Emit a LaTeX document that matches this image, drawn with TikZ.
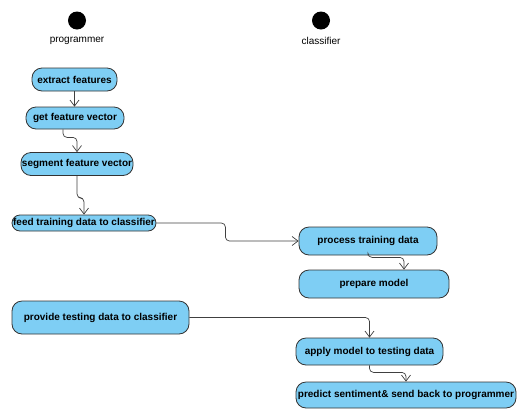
\documentclass[tikz,border=0pt]{standalone}
\usepackage{fontspec}
\setmainfont{Liberation Sans}
\usetikzlibrary{arrows.meta,positioning}
\definecolor{actblue}{RGB}{126,206,244}

\begin{document}
\begin{tikzpicture}[x=1pt,y=1pt,on grid,
			act/.style={draw=black!80,line width=0.8pt,fill=actblue,rounded corners=10pt,inner sep=0pt,font=\fontsize{10}{12}\selectfont\bfseries},
			lane/.style={font=\fontsize{10}{12}\selectfont},
			startdot/.style={circle,fill=black,inner sep=0pt,minimum size=18pt},
			flow/.style={draw=black!75,line width=0.7pt,rounded corners=4pt,-{Straight Barb[length=6pt,width=9pt]}}]
			\useasboundingbox (0,0) rectangle (517,-408);
			\node[startdot] (progdot) at (77,-20.5) {};
			\node[lane] (prog) [below=20.5pt of progdot] {programmer};
			\node[startdot] (clsdot) at (321,-20.5) {};
			\node[lane] (cls) [below=20pt of clsdot] {classifier};
			\node[act, minimum width=85pt, minimum height=23pt] (extract) at (74.5,-79.5) {extract features};
			\node[act, minimum width=98pt, minimum height=22pt] (getvec) [below right=38.5pt and 0.5pt of extract] {get feature vector};
			\node[act, minimum width=112pt, minimum height=23pt] (segvec) [below right=46pt and 2pt of getvec] {segment feature vector};
			\node[act, minimum width=144pt, minimum height=16pt, rounded corners=8pt] (feed) [below right=59pt and 7pt of segvec] {feed training data to classifier};
			\node[act, minimum width=138pt, minimum height=28pt] (process) [below right=18pt and 284pt of feed] {process training data};
			\node[act, minimum width=150pt, minimum height=28pt] (prepare) [below right=43pt and 6pt of process] {prepare model};
			\node[act, minimum width=177pt, minimum height=33pt] (provide) [below right=94.5pt and 16.5pt of feed] {provide testing data to classifier};
			\node[act, minimum width=147pt, minimum height=27pt] (apply) [below right=34pt and 269pt of provide] {apply model to testing data};
			\node[act, minimum width=220pt, minimum height=26pt] (predict) [below right=43.5pt and 36.5pt of apply] {predict sentiment\& send back to programmer};
			\draw[flow] (extract.south) -- (extract.south |- getvec.north);
			\draw[flow] ([xshift=-12pt]getvec.south) -- ++(0,-8pt) -| (segvec.north);
			\draw[flow] (segvec.south) -- ++(0,-22pt) -| (feed.north);
			\draw[flow] (feed.east) -- ++(69pt,0) |- (process.west);
			\draw[flow] (process.south) -- ++(0,-2pt) -| ([xshift=30pt]prepare.north);
			\draw[flow] (provide.east) -| (apply.north);
			\draw[flow] (apply.south) -- ++(0,-7pt) -| (predict.north);
		\end{tikzpicture}
\end{document}
